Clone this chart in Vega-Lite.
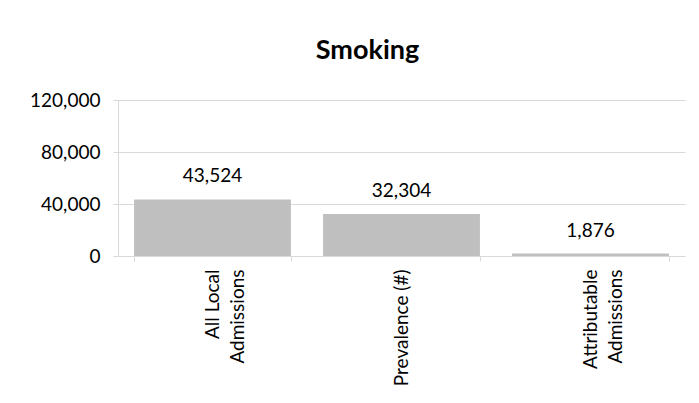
{
  "$schema": "https://vega.github.io/schema/vega-lite/v6.json",
  "width": 567,
  "height": 156,
  "autosize": {"type": "none"},
  "padding": {"left": 118, "top": 100, "right": 14, "bottom": 147},
  "background": "white",
  "title": {
    "text": "Smoking",
    "font": "Lato",
    "fontSize": 27,
    "fontWeight": "bold",
    "color": "#000000",
    "anchor": "middle",
    "dx": -34,
    "baseline": "alphabetic",
    "offset": 5
  },
  "data": {
    "values": [
      {"category": "All Local Admissions", "value": 43524},
      {"category": "Prevalence (#)", "value": 32304},
      {"category": "Attributable Admissions", "value": 1876}
    ]
  },
  "encoding": {
    "x": {
      "field": "category",
      "type": "nominal",
      "sort": null,
      "scale": {"paddingInner": 0.17, "paddingOuter": 0.085},
      "axis": {
        "title": null,
        "labelAngle": -90,
        "labelAlign": "right",
        "labelBaseline": "middle",
        "labelFont": "Lato",
        "labelFontSize": 19,
        "labelColor": "#000000",
        "labelLineHeight": 25,
        "labelPadding": 8,
        "labelExpr": "datum.label == 'All Local Admissions' ? ['All Local', 'Admissions'] : datum.label == 'Attributable Admissions' ? ['Attributable', 'Admissions'] : datum.label",
        "tickBand": "extent",
        "tickSize": 5,
        "tickColor": "#d9d9d9",
        "domainColor": "#d9d9d9",
        "grid": false
      }
    },
    "y": {
      "field": "value",
      "type": "quantitative",
      "scale": {"domain": [0, 120000], "nice": false},
      "axis": {
        "title": null,
        "values": [0, 40000, 80000, 120000],
        "format": ",d",
        "labelFont": "Lato",
        "labelFontSize": 19,
        "labelColor": "#000000",
        "labelPadding": 13,
        "tickSize": 5,
        "tickColor": "#d9d9d9",
        "domainColor": "#d9d9d9",
        "gridColor": "#d9d9d9",
        "grid": true
      }
    }
  },
  "layer": [
    {"mark": {"type": "bar", "color": "#bfbfbf"}},
    {
      "mark": {"type": "text", "font": "Lato", "fontSize": 19, "color": "#000000", "baseline": "alphabetic", "dy": -17},
      "encoding": {"text": {"field": "value", "type": "quantitative", "format": ",d"}}
    }
  ],
  "config": {"view": {"stroke": null}}
}
